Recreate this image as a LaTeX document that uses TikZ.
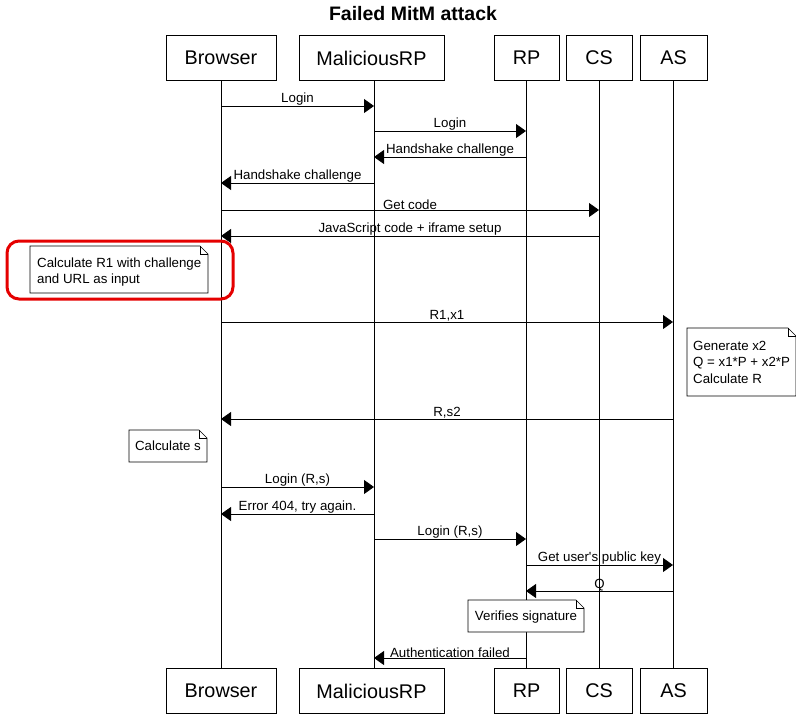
\documentclass[tikz,border=0pt]{standalone}
\usepackage{fontspec}
\setmainfont{Liberation Sans}
\usetikzlibrary{arrows.meta,calc}
\begin{document}
\begin{tikzpicture}[x=1pt,y=-1pt,
  actor/.style={draw,line width=0.8pt,minimum height=45pt,font=\fontsize{19.8}{22}\selectfont,inner sep=0pt},
  life/.style={line width=0.8pt},
  msg/.style={line width=0.8pt,-{Triangle[length=10pt,width=14pt]}},
  lab/.style={font=\fontsize{13.3}{15}\selectfont,inner sep=0pt,above},
  notetext/.style={font=\fontsize{13.3}{15.3}\selectfont,align=left,anchor=north west,inner sep=0pt},
  notebox/.style={line width=0.6pt,fill=white}
]
\useasboundingbox (0,0) rectangle (796,718);
\node[font=\bfseries\fontsize{19.5}{22}\selectfont] (title) at (413,14) {Failed MitM attack};
% top actors
\node[actor,minimum width=110pt] (Bt) at (221,58) {Browser};
\node[actor,minimum width=145pt] (Mt) at (371.5,58) {MaliciousRP};
\node[actor,minimum width=65pt] (Rt) at (526.5,58) {RP};
\node[actor,minimum width=66pt] (Ct) at (599,58) {CS};
\node[actor,minimum width=67pt] (At) at (673.5,58) {AS};
% bottom actors
\node[actor,minimum width=110pt] (Bb) at (221,691) {Browser};
\node[actor,minimum width=145pt] (Mb) at (371.5,691) {MaliciousRP};
\node[actor,minimum width=65pt] (Rb) at (526.5,691) {RP};
\node[actor,minimum width=66pt] (Cb) at (599,691) {CS};
\node[actor,minimum width=67pt] (Ab) at (673.5,691) {AS};
% lifelines
\coordinate (B) at (221,0);
\coordinate (M) at (374,0);
\coordinate (R) at (526,0);
\coordinate (C) at (599,0);
\coordinate (A) at (673,0);
\draw[life] (B |- Bt.south) -- (B |- Bb.north);
\draw[life] (M |- Mt.south) -- (M |- Mb.north);
\draw[life] (R |- Rt.south) -- (R |- Rb.north);
\draw[life] (C |- Ct.south) -- (C |- Cb.north);
\draw[life] (A |- At.south) -- (A |- Ab.north);
% messages
\draw[msg] (B |- 0,106) -- node[lab]{Login} (M |- 0,106);
\draw[msg] (M |- 0,131) -- node[lab]{Login} (R |- 0,131);
\draw[msg] (R |- 0,157) -- node[lab]{Handshake challenge} (M |- 0,157);
\draw[msg] (M |- 0,183) -- node[lab]{Handshake challenge} (B |- 0,183);
\draw[msg] (B |- 0,210) -- node[lab]{Get code} (C |- 0,210);
\draw[msg] (C |- 0,236) -- node[lab]{JavaScript code + iframe setup} (B |- 0,236);
% note 1
\draw[notebox] (30,246) -- (200,246) -- (208,254) -- (208,293) -- (30,293) -- cycle;
\draw[line width=0.6pt] (200,246) -- (200,254) -- (208,254);
\node[notetext] (n1) at (37,258) {Calculate R1 with challenge\\and URL as input};
\draw[red!90!black,line width=3pt,rounded corners=12pt] (7,241) rectangle (233,299);
\draw[msg] (B |- 0,322) -- node[lab]{R1,x1} (A |- 0,322);
% note 2
\draw[notebox] (687,328) -- (788,328) -- (796,336) -- (796,396) -- (687,396) -- cycle;
\draw[line width=0.6pt] (788,328) -- (788,336) -- (796,336);
\node[notetext,font=\fontsize{13.3}{16.5}\selectfont] (n2) at (693,341) {Generate x2\\Q = x1*P + x2*P\\Calculate R};
\draw[msg] (A |- 0,419) -- node[lab]{R,s2} (B |- 0,419);
% note 3
\draw[notebox] (129,430) -- (199,430) -- (207,438) -- (207,462) -- (129,462) -- cycle;
\draw[line width=0.6pt] (199,430) -- (199,438) -- (207,438);
\node[font=\fontsize{13.3}{15}\selectfont] (n3) at (168,446) {Calculate s};
\draw[msg] (B |- 0,487) -- node[lab]{Login (R,s)} (M |- 0,487);
\draw[msg] (M |- 0,514) -- node[lab]{Error 404, try again.} (B |- 0,514);
\draw[msg] (M |- 0,539) -- node[lab]{Login (R,s)} (R |- 0,539);
\draw[msg] (R |- 0,565) -- node[lab]{Get user\textquotesingle s public key} (A |- 0,565);
\draw[msg] (A |- 0,591) -- node[lab]{Q} (R |- 0,591);
% note 4
\draw[notebox] (468,600) -- (576,600) -- (584,608) -- (584,632) -- (468,632) -- cycle;
\draw[line width=0.6pt] (576,600) -- (576,608) -- (584,608);
\node[font=\fontsize{13.3}{15}\selectfont] (n4) at (526,617) {Verifies signature};
\draw[msg] (R |- 0,658) -- node[lab]{Authentication failed} (M |- 0,658);
\end{tikzpicture}
\end{document}
